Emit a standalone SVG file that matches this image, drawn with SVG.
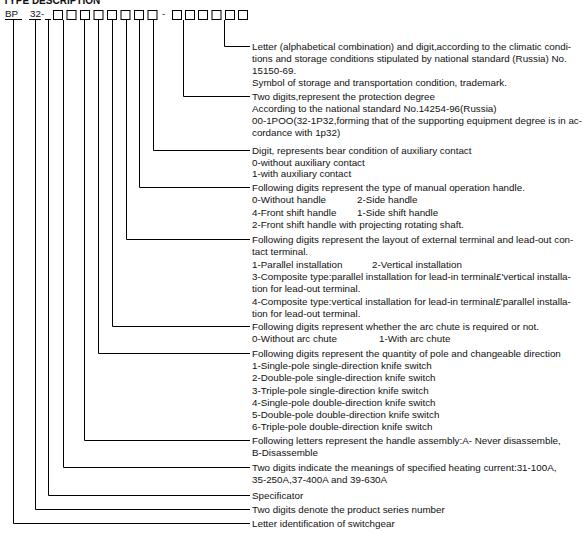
<svg xmlns="http://www.w3.org/2000/svg" width="585" height="535" viewBox="0 0 585 535">
<style>
.t{font-family:"Liberation Sans",Arial,sans-serif;font-size:9.8px;fill:#111}
.h{font-family:"Liberation Sans",Arial,sans-serif;font-size:10px;font-weight:bold;fill:#111}
.c{fill:none;stroke:#000;stroke-width:1}
.b{fill:#fff;stroke:#000;stroke-width:1}
</style>
<rect width="585" height="535" fill="#fff"/>
<text class="h" x="3" y="3.5">TYPE DESCRIPTION</text>
<g id="code">
<text class="t" x="5" y="17">BP</text>
<text class="t" x="30" y="17">32-</text>
<text class="t" x="162" y="17">-</text>
<path class="c" d="M5 19.5H22M29 19.5H41M45 19.5H51"/>
<rect class="b" x="53.5" y="10.5" width="9" height="9"/>
<rect class="b" x="67" y="10.5" width="9" height="9"/>
<rect class="b" x="80.5" y="10.5" width="9" height="9"/>
<rect class="b" x="94" y="10.5" width="9" height="9"/>
<rect class="b" x="107.5" y="10.5" width="9" height="9"/>
<rect class="b" x="121" y="10.5" width="9" height="9"/>
<rect class="b" x="134.5" y="10.5" width="9" height="9"/>
<rect class="b" x="148" y="10.5" width="9" height="9"/>
<rect class="b" x="172.5" y="10.5" width="9" height="9"/>
<rect class="b" x="185.5" y="10.5" width="9" height="9"/>
<rect class="b" x="198.5" y="10.5" width="9" height="9"/>
<rect class="b" x="212" y="10.5" width="9" height="9"/>
<rect class="b" x="225.5" y="10.5" width="9" height="9"/>
<rect class="b" x="238.5" y="10.5" width="9" height="9"/>
</g>
<g id="connectors">
<path class="c" d="M224.5 20V46.5H250"/>
<path class="c" d="M183.5 20V96.5H250"/>
<path class="c" d="M153.5 20V150.5H250"/>
<path class="c" d="M139.5 20V187.5H250"/>
<path class="c" d="M126.5 20V239.5H250"/>
<path class="c" d="M112.5 20V326.5H250"/>
<path class="c" d="M98.5 20V353.5H250"/>
<path class="c" d="M84.5 20V440.5H250"/>
<path class="c" d="M63.5 20V467.5H250"/>
<path class="c" d="M48.5 20V495.5H250"/>
<path class="c" d="M35.5 20V509.5H250"/>
<path class="c" d="M13.5 20V523.5H250"/>
</g>
<g id="n1"><text class="t" x="252" y="50"><tspan x="252">Letter (alphabetical combination) and digit,according to the climatic condi-</tspan><tspan x="252" dy="12">tions and storage conditions stipulated by national standard (Russia) No.</tspan><tspan x="252" dy="12">15150-69.</tspan><tspan x="252" dy="12">Symbol of storage and transportation condition, trademark.</tspan></text></g>
<g id="n2"><text class="t" x="252" y="100"><tspan x="252">Two digits,represent the protection degree</tspan><tspan x="252" dy="12">According to the national standard No.14254-96(Russia)</tspan><tspan x="252" dy="12">00-1POO(32-1P32,forming that of the supporting equipment degree is in ac-</tspan><tspan x="252" dy="12">cordance with 1p32)</tspan></text></g>
<g id="n3"><text class="t" x="252" y="154"><tspan x="252">Digit, represents bear condition of auxiliary contact</tspan><tspan x="252" dy="11.5">0-without auxiliary contact</tspan><tspan x="252" dy="11.5">1-with auxiliary contact</tspan></text></g>
<g id="n4"><text class="t" x="252" y="191"><tspan x="252">Following digits represent the type of manual operation handle.</tspan><tspan x="252" dy="12.3">0-Without handle</tspan><tspan x="357" dy="0">2-Side handle</tspan><tspan x="252" dy="12.3">4-Front shift handle</tspan><tspan x="357" dy="0">1-Side shift handle</tspan><tspan x="252" dy="12.3">2-Front shift handle with projecting rotating shaft.</tspan></text></g>
<g id="n5"><text class="t" x="252" y="243"><tspan x="252">Following digits represent the layout of external terminal and lead-out con-</tspan><tspan x="252" dy="12.3">tact terminal.</tspan><tspan x="252" dy="12.3">1-Parallel installation</tspan><tspan x="372" dy="0">2-Vertical installation</tspan><tspan x="252" dy="12.3">3-Composite type:parallel installation for lead-in terminal£'vertical installa-</tspan><tspan x="252" dy="12.3">tion for lead-out terminal.</tspan><tspan x="252" dy="12.3">4-Composite type:vertical installation for lead-in terminal£'parallel installa-</tspan><tspan x="252" dy="12.3">tion for lead-out terminal.</tspan></text></g>
<g id="n6"><text class="t" x="252" y="330"><tspan x="252">Following digits represent whether the arc chute is required or not.</tspan><tspan x="252" dy="12.3">0-Without arc chute</tspan><tspan x="379" dy="0">1-With arc chute</tspan></text></g>
<g id="n7"><text class="t" x="252" y="357"><tspan x="252">Following digits represent the quantity of pole and changeable direction</tspan><tspan x="252" dy="12.2">1-Single-pole single-direction knife switch</tspan><tspan x="252" dy="12.2">2-Double-pole single-direction knife switch</tspan><tspan x="252" dy="12.2">3-Triple-pole single-direction knife switch</tspan><tspan x="252" dy="12.2">4-Single-pole double-direction knife switch</tspan><tspan x="252" dy="12.2">5-Double-pole double-direction knife switch</tspan><tspan x="252" dy="12.2">6-Triple-pole double-direction knife switch</tspan></text></g>
<g id="n8"><text class="t" x="252" y="444"><tspan x="252">Following letters represent the handle assembly:A- Never disassemble,</tspan><tspan x="252" dy="12.2">B-Disassemble</tspan></text></g>
<g id="n9"><text class="t" x="252" y="471"><tspan x="252">Two digits indicate the meanings of specified heating current:31-100A,</tspan><tspan x="252" dy="12.2">35-250A,37-400A and 39-630A</tspan></text></g>
<g id="n10"><text class="t" x="252" y="499">Specificator</text></g>
<g id="n11"><text class="t" x="252" y="513">Two digits denote the product series number</text></g>
<g id="n12"><text class="t" x="252" y="527">Letter identification of switchgear</text></g>
</svg>
